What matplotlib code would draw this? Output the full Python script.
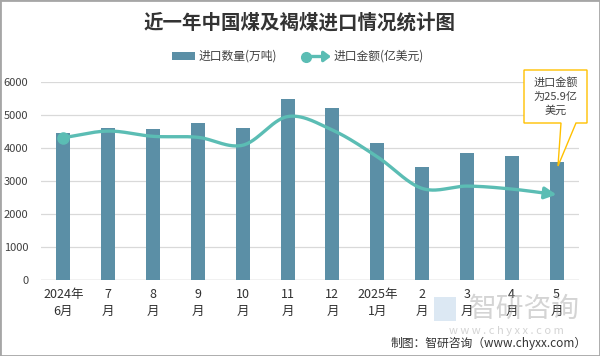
import numpy as np
import matplotlib
matplotlib.use("Agg")
import matplotlib.pyplot as plt
from matplotlib.patches import Rectangle, FancyArrowPatch, Polygon

plt.rcParams['font.family'] = ['Noto Sans CJK SC', 'DejaVu Sans']

categories = ["2024年\n6月", "7\n月", "8\n月", "9\n月", "10\n月", "11\n月", "12\n月",
              "2025年\n1月", "2\n月", "3\n月", "4\n月", "5\n月"]
quantity = [4460, 4610, 4580, 4770, 4610, 5490, 5220, 4160, 3430, 3850, 3760, 3580]
amount = [43.2, 45.2, 43.6, 43.3, 40.9, 49.6, 45.5, 37.4, 27.8, 28.5, 27.6, 25.9]
yticks = [0, 1000, 2000, 3000, 4000, 5000, 6000]

BAR = "#5B8FA6"
LINE = "#5BBDB4"

W, H = 600, 356
fig = plt.figure(figsize=(6, 3.56), dpi=100)
ax = fig.add_axes([41 / W, 1 - 280 / H, 538 / W, (280 - 82.3) / H])
ax2 = ax.twinx()

x = np.arange(len(categories))
ax.bar(x, quantity, width=0.31, color=BAR, zorder=2)
ax.set_ylim(0, 6000)
ax.set_xlim(-0.5, len(categories) - 0.5)
ax.set_yticks(yticks)
ax.set_yticklabels([str(v) for v in yticks], fontsize=8, color="#404040")
ax.set_xticks(x)
ax.set_xticklabels(categories, fontsize=9, color="#303030", linespacing=1.35)
ax.tick_params(axis='both', length=0)
ax.tick_params(axis='y', pad=9)
ax.tick_params(axis='x', pad=6)
for s in ax.spines.values():
    s.set_visible(False)
ax.grid(axis='y', color="#D9D9D9", linewidth=0.9, zorder=0)
ax.set_axisbelow(True)
ax.axhline(0, color="#D0D0D0", linewidth=1.0, zorder=1)


def catmull(xs, ys, n=30):
    xs = np.asarray(xs, float); ys = np.asarray(ys, float)
    px = np.concatenate([[2 * xs[0] - xs[1]], xs, [2 * xs[-1] - xs[-2]]])
    py = np.concatenate([[2 * ys[0] - ys[1]], ys, [2 * ys[-1] - ys[-2]]])
    ox, oy = [], []
    for i in range(1, len(px) - 2):
        p0x, p1x, p2x, p3x = px[i - 1:i + 3]
        p0y, p1y, p2y, p3y = py[i - 1:i + 3]
        c1x = p1x + (p2x - p0x) / 6; c1y = p1y + (p2y - p0y) / 6
        c2x = p2x - (p3x - p1x) / 6; c2y = p2y - (p3y - p1y) / 6
        s = np.linspace(0, 1, n, endpoint=(i == len(px) - 3))
        bx = (1 - s) ** 3 * p1x + 3 * (1 - s) ** 2 * s * c1x + 3 * (1 - s) * s ** 2 * c2x + s ** 3 * p2x
        by = (1 - s) ** 3 * p1y + 3 * (1 - s) ** 2 * s * c1y + 3 * (1 - s) * s ** 2 * c2y + s ** 3 * p2y
        ox.append(bx); oy.append(by)
    return np.concatenate(ox), np.concatenate(oy)


sx, sy = catmull(x, amount)
ax2.set_ylim(0, 60)
ax2.axis('off')
ax2.plot(sx[:-4], sy[:-4], color=LINE, linewidth=2.4, solid_capstyle='butt', zorder=3)
ax2.plot([x[0]], [amount[0]], 'o', color=LINE, markersize=8, zorder=4)
ax2.annotate("", xy=(sx[-1], sy[-1]), xytext=(sx[-8], sy[-8]),
             arrowprops=dict(arrowstyle="-|>,head_length=0.7,head_width=0.35",
                             color=LINE, lw=2.4, shrinkA=0, shrinkB=0), zorder=4)

# callout
bx0, by0, bx1, by1 = 524, 70, 587, 123
fig.patches.append(Polygon([(bx0 / W, 1 - by0 / H), (bx1 / W, 1 - by0 / H), (bx1 / W, 1 - by1 / H),
                            (576 / W, 1 - by1 / H), (558 / W, 1 - 166 / H), (561 / W, 1 - by1 / H),
                            (bx0 / W, 1 - by1 / H)], closed=True, transform=fig.transFigure,
                           facecolor="white", edgecolor="#FFC000", linewidth=1.0, zorder=5))
fig.text((bx0 + bx1) / 2 / W, 1 - 96.5 / H, "进口金额\n为25.9亿\n美元", ha='center', va='center',
         fontsize=8, color="#404040", linespacing=1.45, zorder=6)

# title
fig.text(0.5, 1 - 23 / H, "近一年中国煤及褐煤进口情况统计图", ha='center', va='center',
         fontsize=14, fontweight='bold', color="#333333")

# legend
fig.patches.append(Rectangle((172 / W, 1 - 60 / H), 23 / W, 8 / H, transform=fig.transFigure,
                             facecolor=BAR, edgecolor='none'))
fig.text(199 / W, 1 - 56 / H, "进口数量(万吨)", ha='left', va='center', fontsize=8.5, color="#404040")
fig.add_artist(FancyArrowPatch((306 / W, 1 - 56.5 / H), (331 / W, 1 - 56.5 / H), transform=fig.transFigure,
                               arrowstyle="-|>,head_length=4,head_width=3", color=LINE, lw=2.4,
                               shrinkA=0, shrinkB=0))
fig.lines.append(plt.Line2D([306 / W], [1 - 56.5 / H], marker='o', markersize=7, color=LINE,
                            transform=fig.transFigure))
fig.text(334 / W, 1 - 56 / H, "进口金额(亿美元)", ha='left', va='center', fontsize=8.5, color="#404040")

# watermark
fig.text(524 / W, 1 - 309 / H, "智研咨询", ha='center', va='center', fontsize=20,
         color="#A0A0A0", alpha=0.45, zorder=0)
fig.text(506 / W, 1 - 331 / H, "w w w . c h y x x . c o m", ha='center', va='center', fontsize=8,
         color="#A0A0A0", alpha=0.45, zorder=0)
fig.patches.append(Rectangle((434 / W, 1 - 321 / H), 22 / W, 24 / H, transform=fig.transFigure,
                             facecolor="#BBD3E8", edgecolor='none', alpha=0.5, zorder=0))

# source
fig.text(587 / W, 1 - 343 / H, "制图：智研咨询（www.chyxx.com）", ha='right', va='center',
         fontsize=8.5, color="#333333")

# border
fig.patches.append(Rectangle((0, 0), 1, 1, transform=fig.transFigure, fill=False,
                             edgecolor="#A6A6A6", linewidth=2))

fig.savefig("out.png", dpi=100)
